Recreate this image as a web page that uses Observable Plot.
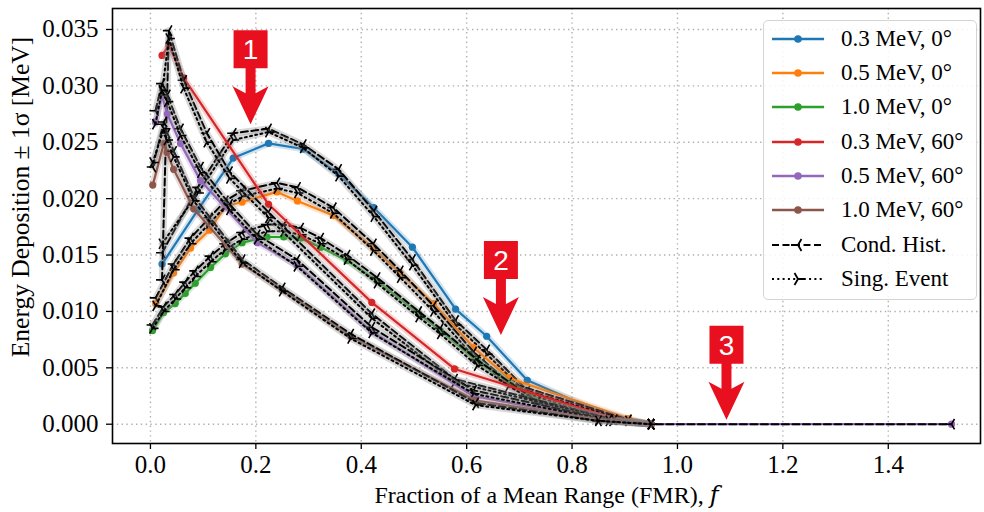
<!DOCTYPE html>
<html>
<head>
<meta charset="utf-8">
<script src="https://cdn.jsdelivr.net/npm/d3@7"></script>
<script src="https://cdn.jsdelivr.net/npm/@observablehq/plot@0.6"></script>
<style>
  body { margin: 0; background: #fff; }
  #wrap { position: relative; width: 984px; height: 512px; }
  #legend {
    position: absolute; left: 763px; top: 20px; width: 214px; height: 280px;
    box-sizing: border-box; border: 1.2px solid #d4d4d4; border-radius: 5px;
    background: rgba(255,255,255,0.85);
    font-family: "Liberation Serif", "DejaVu Serif", serif; font-size: 23px; color: #000;
  }
  .row { position: absolute; left: 0; height: 34px; display: flex; align-items: center; white-space: nowrap; }
  .row svg { margin-left: 8px; margin-right: 17px; }
</style>
</head>
<body>
<div id="wrap"><div id="legend"></div></div>
<script>
// ---- Series: Fraction of Mean Range (f) and energy deposition [MeV] ----
// 0.3 MeV, 0°
const fA   = [0.022, 0.09, 0.157, 0.224, 0.29, 0.357, 0.424, 0.497, 0.579, 0.638, 0.715, 0.877, 0.95];
const meanA = [0.0142, 0.0190, 0.0236, 0.0249, 0.0244, 0.0222, 0.0192, 0.0157, 0.0102, 0.0078, 0.0039, 0.0006, 0];
const condA = [0.0152, 0.0210, 0.0258, 0.0262, 0.0248, 0.0226, 0.0189, 0.0146, 0.0092, 0.0066, 0.0030, 0.0004, 0];
const singA = [0.0160, 0.0205, 0.0252, 0.0259, 0.0245, 0.0220, 0.0184, 0.0141, 0.0088, 0.0062, 0.0027, 0.0003, 0];

// 0.5 MeV, 0°
const fB   = [0.01, 0.044, 0.076, 0.112, 0.142, 0.174, 0.24, 0.279, 0.347, 0.423, 0.474, 0.537, 0.613, 0.68, 0.907, 0.95];
const meanB = [0.0107, 0.0134, 0.0156, 0.0172, 0.0193, 0.0197, 0.0206, 0.0198, 0.0185, 0.0156, 0.0134, 0.0107, 0.0068, 0.0041, 0.0005, 0];
const condB = [0.0112, 0.0142, 0.0165, 0.0183, 0.0198, 0.0207, 0.0214, 0.0210, 0.0192, 0.0160, 0.0136, 0.0105, 0.0064, 0.0037, 0.0004, 0];
const singB = [0.0105, 0.0137, 0.0160, 0.0178, 0.0193, 0.0202, 0.0209, 0.0205, 0.0187, 0.0154, 0.0130, 0.0100, 0.0060, 0.0034, 0.0003, 0];

// 1.0 MeV, 0°
const fC   = [0.004, 0.025, 0.047, 0.066, 0.085, 0.114, 0.142, 0.174, 0.221, 0.253, 0.285, 0.323, 0.373, 0.43, 0.509, 0.55, 0.62, 0.734, 0.85, 0.95];
const meanC = [0.0083, 0.0099, 0.0107, 0.0116, 0.0125, 0.0139, 0.0151, 0.0161, 0.0166, 0.0166, 0.0165, 0.0157, 0.0145, 0.0127, 0.0098, 0.0083, 0.0056, 0.0021, 0.0006, 0];
const condC = [0.0088, 0.0104, 0.0115, 0.0126, 0.0136, 0.0149, 0.0160, 0.0170, 0.0177, 0.0177, 0.0174, 0.0165, 0.0150, 0.0130, 0.0100, 0.0085, 0.0057, 0.0020, 0.0005, 0];
const singC = [0.0085, 0.0100, 0.0111, 0.0121, 0.0131, 0.0144, 0.0155, 0.0164, 0.0171, 0.0171, 0.0168, 0.0160, 0.0146, 0.0125, 0.0095, 0.0080, 0.0052, 0.0018, 0.0004, 0];

// 0.3 MeV, 60°
const fD   = [0.022, 0.035, 0.063, 0.107, 0.15, 0.224, 0.42, 0.577, 0.88, 0.95];
const meanD = [0.0327, 0.0336, 0.0307, null, null, 0.0195, 0.0108, 0.0049, 0.0005, 0];
const condD = [0.0128, 0.0349, 0.0305, 0.0258, 0.0224, 0.0188, 0.0098, 0.0040, 0.0004, 0];
const singD = [0.0295, 0.0342, 0.0298, 0.0250, 0.0218, 0.0183, 0.0094, 0.0037, 0.0004, 0];

// 0.5 MeV, 60°
const fE   = [0.0095, 0.022, 0.032, 0.057, 0.095, 0.15, 0.2025, 0.278, 0.42, 0.613, 0.87, 0.95, 1.52];
const meanE = [0.0268, 0.0291, 0.0275, 0.0249, 0.0216, null, 0.0161, 0.0141, 0.0082, 0.0025, 0.0003, 0, 0];
const condE = [0.0278, 0.0302, 0.0292, 0.0262, 0.0228, 0.0195, 0.0168, 0.0146, 0.0086, 0.0030, 0.0004, 0, 0];
const singE = [0.0266, 0.0296, 0.0286, 0.0256, 0.0223, 0.0190, 0.0164, 0.0140, 0.0081, 0.0027, 0.0003, 0, null];

// 1.0 MeV, 60°
const fF   = [0.0044, 0.0253, 0.0316, 0.044, 0.082, 0.174, 0.25, 0.38, 0.617, 0.85, 0.95];
const meanF = [0.0212, 0.0249, 0.0241, 0.0226, 0.0191, 0.0142, 0.0119, 0.0078, 0.0021, 0.0004, 0];
const condF = [0.0228, 0.0268, 0.0258, 0.0242, 0.0202, 0.0146, 0.0121, 0.0080, 0.0019, 0.0003, 0];
const singF = [0.0232, 0.0262, 0.0252, 0.0237, 0.0198, 0.0143, 0.0118, 0.0076, 0.0017, 0.0003, 0];

const seriesLabels = ["0.3 MeV, 0°", "0.5 MeV, 0°", "1.0 MeV, 0°", "0.3 MeV, 60°", "0.5 MeV, 60°", "1.0 MeV, 60°"];
const seriesColors = ["#1f77b4", "#ff7f0e", "#2ca02c", "#d62728", "#9467bd", "#8c564b"];
const methodLabels = ["Cond. Hist.", "Sing. Event"];

const xTicks = [0, 0.2, 0.4, 0.6, 0.8, 1.0, 1.2, 1.4];
const yTicks = [0, 0.005, 0.010, 0.015, 0.020, 0.025, 0.030, 0.035];

// Numbered call-outs (arrow tip position in data units)
const calloutText = ["1", "2", "3"];
const calloutF = [0.19, 0.665, 1.093];
const calloutE = [0.0266, 0.0079, 0.0004];

// ---- helpers ----
const rows = (fs, vs) => fs.map((f, i) => ({f, v: vs[i]})).filter(d => d.v != null);

// matplotlib-style "tri" markers
function tri(dir) {
  return {
    draw(ctx, size) {
      const r = Math.sqrt(size / Math.PI);
      const c = Math.cos(Math.PI / 3), s = Math.sin(Math.PI / 3);
      ctx.moveTo(0, 0); ctx.lineTo(dir * r, 0);
      ctx.moveTo(0, 0); ctx.lineTo(-dir * r * c, -r * s);
      ctx.moveTo(0, 0); ctx.lineTo(-dir * r * c, r * s);
    }
  };
}
const triLeft = tri(-1), triRight = tri(1);

// red box with a downward arrow, tip at the anchor
const calloutShape = {
  draw(ctx) {
    ctx.moveTo(-17, -94); ctx.lineTo(17, -94); ctx.lineTo(17, -56); ctx.lineTo(5, -56);
    ctx.lineTo(5, -31); ctx.lineTo(18, -38); ctx.lineTo(0, 0); ctx.lineTo(-18, -38);
    ctx.lineTo(-5, -31); ctx.lineTo(-5, -56); ctx.lineTo(-17, -56); ctx.closePath();
  }
};

const configs = [
  [fA, meanA, condA, singA], [fB, meanB, condB, singB], [fC, meanC, condC, singC],
  [fD, meanD, condD, singD], [fE, meanE, condE, singE], [fF, meanF, condF, singF]
];

const marks = [
  Plot.gridX(xTicks, {stroke: "#b0b0b0", strokeOpacity: 1, strokeWidth: 1.4, strokeDasharray: "1.4,3.4"}),
  Plot.gridY(yTicks, {stroke: "#b0b0b0", strokeOpacity: 1, strokeWidth: 1.4, strokeDasharray: "1.4,3.4"})
];

configs.forEach(([fs, mean, cond, sing], k) => {
  const col = seriesColors[k];
  const m = rows(fs, mean);
  marks.push(Plot.line(m.filter(d => d.f <= 0.95), {x: "f", y: "v", stroke: col, strokeOpacity: 0.2, strokeWidth: 6.5}));
  marks.push(Plot.line(m, {x: "f", y: "v", stroke: col, strokeWidth: 2.2}));
  marks.push(Plot.dot(m, {x: "f", y: "v", fill: col, r: 3.6}));
  [[cond, "7,3.5", triLeft], [sing, "2,3.3", triRight]].forEach(([vals, dash, sym]) => {
    const r = rows(fs, vals);
    marks.push(Plot.line(r.filter(d => d.f <= 0.95), {x: "f", y: "v", stroke: "#8a8a8a", strokeOpacity: 0.33, strokeWidth: 6.5}));
    marks.push(Plot.line(r, {x: "f", y: "v", stroke: "black", strokeWidth: 2, strokeDasharray: dash}));
    marks.push(Plot.dot(r, {x: "f", y: "v", symbol: sym, r: 6, stroke: "black", strokeWidth: 1.6, fill: "none"}));
  });
});

const callouts = calloutText.map((t, i) => ({t, f: calloutF[i], v: calloutE[i]}));
marks.push(
  Plot.dot(callouts, {x: "f", y: "v", symbol: calloutShape, fill: "#e8101f", stroke: "none", r: 5}),
  Plot.text(callouts, {x: "f", y: "v", text: "t", dy: -74, fill: "white", fontSize: 28,
    fontFamily: "Liberation Sans, Arial, sans-serif"}),
  Plot.frame({stroke: "black", strokeWidth: 1.6}),
  Plot.axisX(xTicks, {tickFormat: d3.format(".1f"), tickSize: 6, tickPadding: 6, fontSize: 25, label: null, strokeWidth: 1.3}),
  Plot.axisY(yTicks, {tickFormat: d3.format(".3f"), tickSize: 6, tickPadding: 8, fontSize: 25, label: null, strokeWidth: 1.3}),
  Plot.text(["Fraction of a Mean Range (FMR), \u{1D453}"], {frameAnchor: "bottom", dy: 59, fontSize: 24}),
  Plot.text(["Energy Deposition \u00B1 1\u03C3 [MeV]"], {frameAnchor: "left", textAnchor: "middle", rotate: -90, dx: -92, dy: -29, fontSize: 25.5})
);

const chart = Plot.plot({
  width: 984,
  height: 512,
  marginLeft: 112,
  marginRight: 4,
  marginTop: 8,
  marginBottom: 69,
  x: {domain: [-0.072, 1.575]},
  y: {domain: [-0.00171, 0.03686]},
  style: {fontFamily: "Liberation Serif, DejaVu Serif, serif", fontSize: "24px", background: "white", color: "black"},
  marks
});
document.getElementById("wrap").prepend(chart);

// ---- legend ----
const legend = document.getElementById("legend");
const entries = seriesLabels.map((label, i) => ({label, color: seriesColors[i], kind: "mean"}))
  .concat([{label: methodLabels[0], kind: "cond"}, {label: methodLabels[1], kind: "sing"}]);
entries.forEach((e, i) => {
  const row = document.createElement("div");
  row.className = "row";
  row.style.top = (0.7 + i * 34.3) + "px";
  let sw;
  if (e.kind === "mean") {
    sw = `<line x1="0" x2="52" y1="10" y2="10" stroke="${e.color}" stroke-width="2.6"/>` +
         `<circle cx="26" cy="10" r="3.8" fill="${e.color}"/>`;
  } else {
    const dash = e.kind === "cond" ? "7,3.5" : "2,3.3";
    const d = e.kind === "cond" ? -1 : 1;
    const r = 7, c = 0.5 * r, s = 0.866 * r;
    sw = `<line x1="0" x2="52" y1="10" y2="10" stroke="black" stroke-width="2" stroke-dasharray="${dash}"/>` +
         `<path d="M26,10L${26 + d * r},10M26,10L${26 - d * c},${10 - s}M26,10L${26 - d * c},${10 + s}" stroke="black" stroke-width="1.8" fill="none"/>`;
  }
  row.innerHTML = `<svg width="52" height="20">${sw}</svg><span>${e.label}</span>`;
  legend.appendChild(row);
});
</script>
</body>
</html>
